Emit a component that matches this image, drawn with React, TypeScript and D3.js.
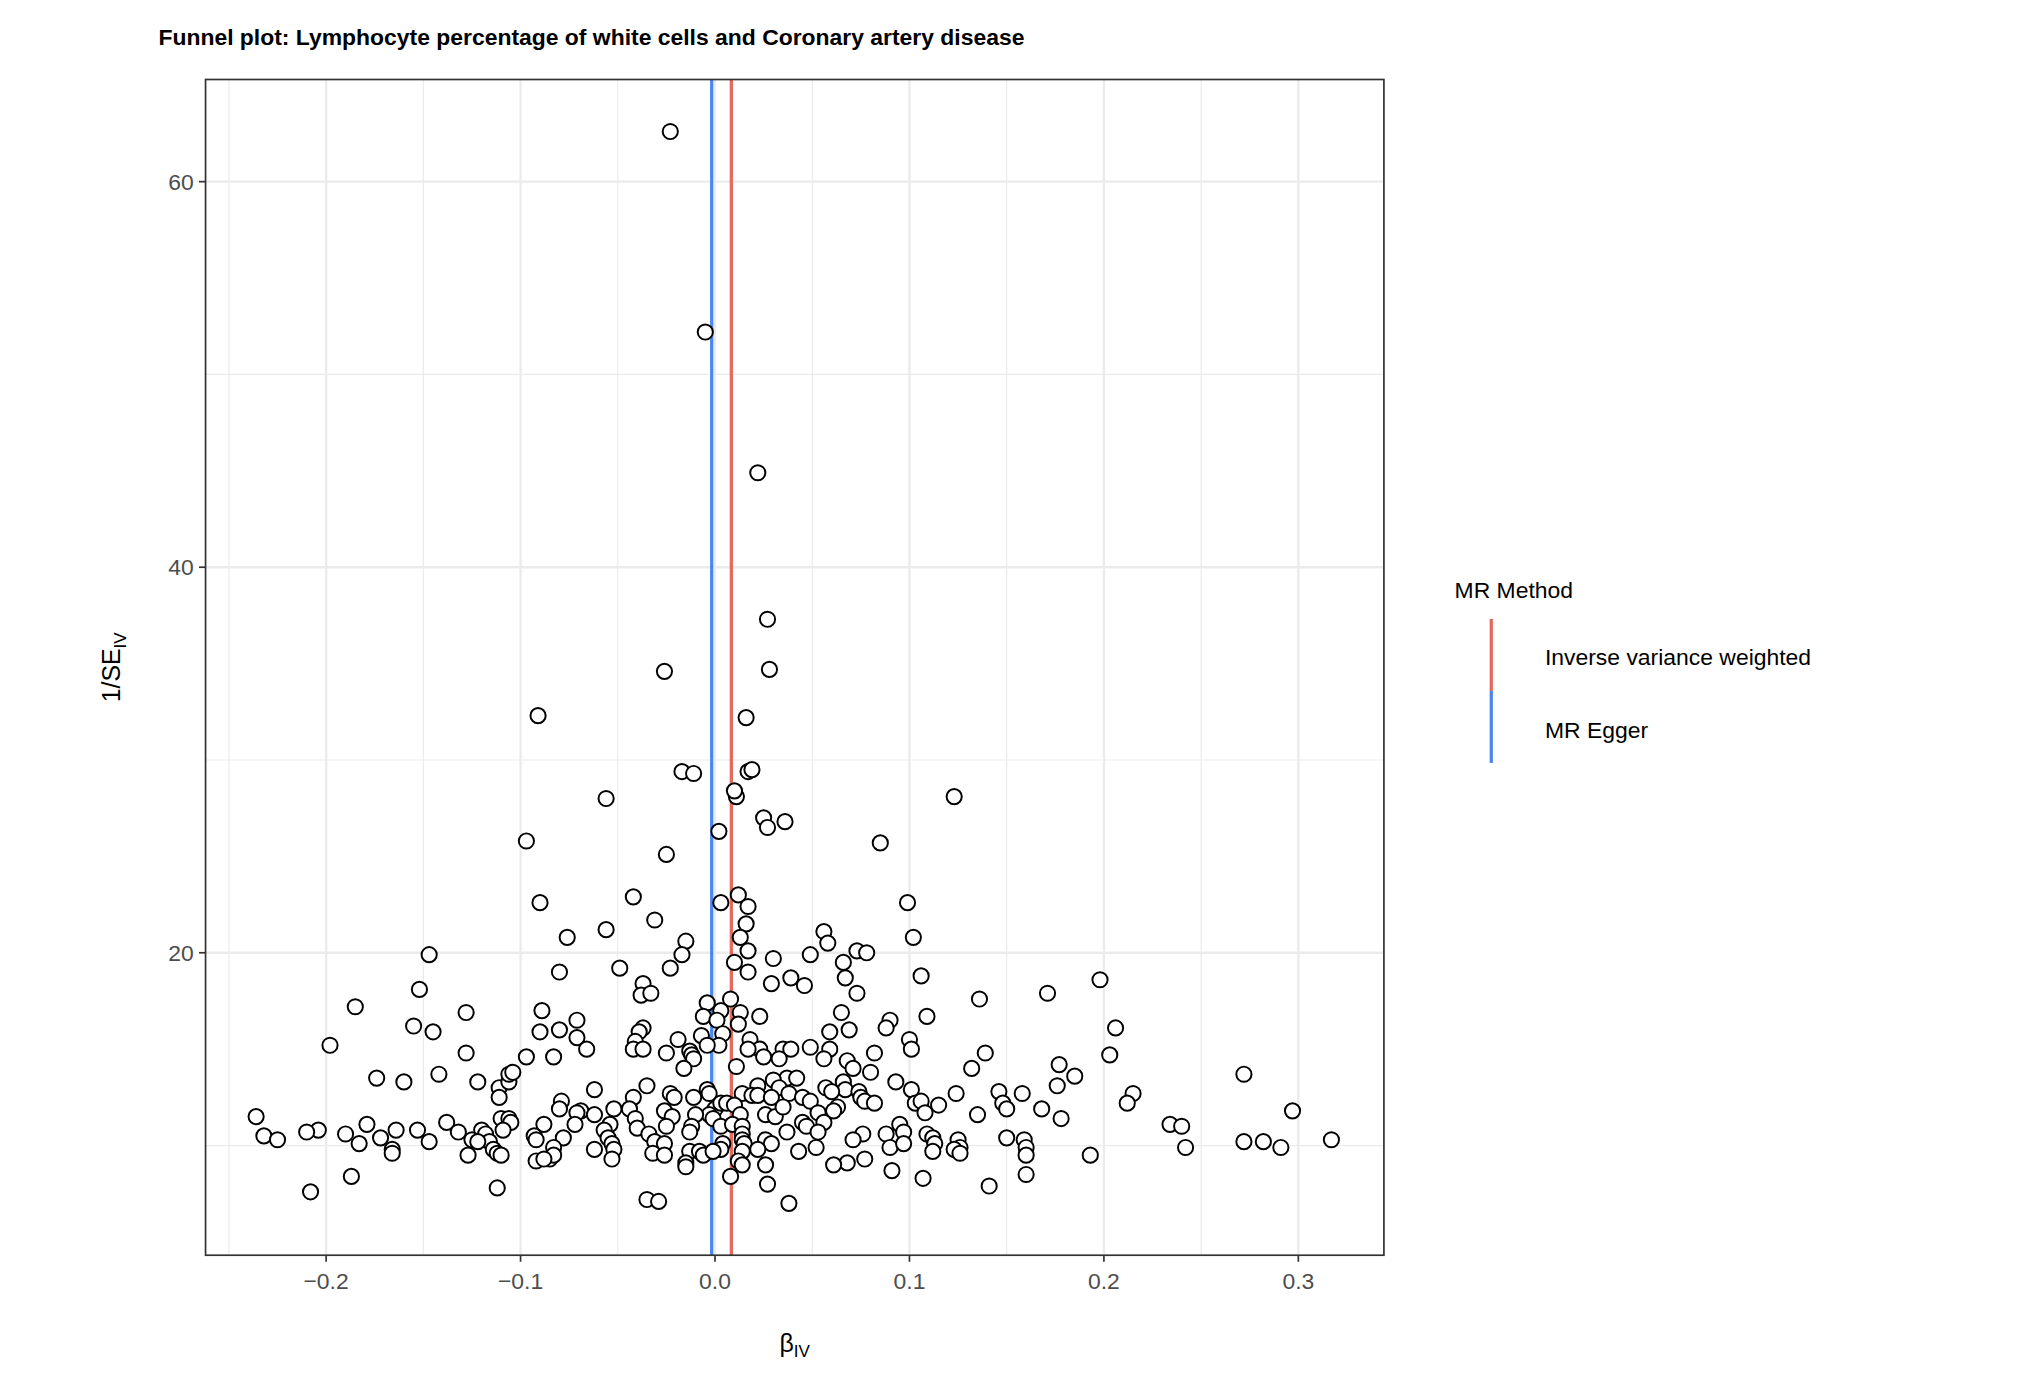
import React from "react";
import * as d3 from "d3";

const xTicks = [-0.2, -0.1, 0.0, 0.1, 0.2, 0.3];
const xMinor = [-0.25, -0.15, -0.05, 0.05, 0.15, 0.25];
const yTicks = [20, 40, 60];
const yMinor = [10, 30, 50];
const ivwSlope = 0.0084;
const eggerSlope = -0.0017;
const methods = ["Inverse variance weighted", "MR Egger"];
const methodColors = ["#E5695C", "#4A87F0"];

const beta = [
-0.023,-0.005,0.022,0.027,-0.026,0.028,-0.091,0.016,-0.017,-0.011,0.017,0.019,-0.056,0.011,0.010,0.123,0.025,0.027,0.036,0.002,-0.097,0.085,-0.025,-0.042,0.012,0.003,-0.090,0.017,0.099,-0.031,0.016,-0.056,0.056,-0.076,0.102,-0.015,0.013,0.058,0.017,0.073,0.078,-0.147,-0.017,0.030,0.049,0.066,-0.049,-0.023,0.010,0.017,-0.080,0.106,0.067,-0.037,0.039,0.029,0.046,0.198,-0.152,-0.038,-0.033,0.073,0.171,0.136,-0.004,0.008,-0.185,-0.089,-0.128,0.013,0.003,0.023,0.065,0.109,0.090,-0.071,-0.006,0.001,0.012,-0.155,-0.145,-0.037,-0.039,-0.080,-0.090,0.059,0.069,0.088,0.206,-0.007,0.004,-0.071,-0.041,-0.019,0.018,0.100,-0.198,0.002,-0.004,0.023,0.035,0.039,-0.066,-0.042,-0.037,-0.025,-0.013,0.017,0.049,0.059,0.082,0.101,0.139,0.203,-0.128,-0.097,-0.083,-0.012,-0.011,0.025,0.033,0.056,0.068,0.011,-0.016,0.071,0.080,0.132,0.177,-0.174,-0.142,-0.160,-0.122,-0.111,-0.106,-0.106,-0.104,0.037,0.030,0.042,0.022,0.033,0.057,0.066,0.093,0.101,0.067,0.074,0.176,0.185,0.272,-0.035,-0.062,-0.004,-0.003,0.124,0.215,0.146,0.158,-0.111,-0.042,-0.023,-0.021,-0.011,0.014,0.019,0.022,0.029,0.038,0.045,0.049,0.060,0.075,0.077,0.082,0.103,0.106,0.115,0.148,0.150,0.212,-0.079,-0.080,-0.069,-0.052,-0.044,-0.026,0.000,0.003,0.006,-0.003,0.010,0.013,0.026,0.031,0.035,0.053,0.063,0.061,0.108,0.135,0.168,0.178,0.297,-0.236,-0.110,-0.071,-0.062,-0.041,-0.022,-0.010,-0.001,0.045,0.056,-0.106,-0.105,-0.138,-0.179,-0.088,-0.072,-0.054,-0.040,-0.025,-0.012,0.003,0.009,0.014,0.047,0.095,0.234,0.240,-0.164,-0.204,-0.210,-0.190,-0.153,-0.132,-0.120,-0.118,-0.109,-0.057,-0.034,-0.013,0.014,0.037,0.053,0.088,0.097,0.109,-0.232,-0.225,-0.172,-0.125,-0.116,-0.093,-0.092,-0.078,-0.055,0.014,0.026,0.076,0.112,0.125,0.150,0.159,0.272,0.282,0.291,0.317,-0.183,-0.147,-0.122,-0.053,-0.031,-0.026,0.004,0.015,0.029,0.071,0.090,0.097,0.113,0.126,0.242,-0.166,-0.166,-0.114,-0.083,-0.062,-0.052,-0.013,-0.008,0.003,0.014,0.022,0.043,0.052,0.123,0.160,-0.112,-0.110,-0.127,-0.032,-0.026,-0.006,-0.001,0.126,0.112,0.160,0.193,0.077,-0.053,-0.092,-0.085,-0.083,-0.088,0.012,0.014,0.068,0.061,-0.015,-0.015,0.091,0.026,-0.187,0.008,0.107,0.141,0.160,0.027,-0.208,-0.112,-0.035,-0.029,0.038
];
const invSE = [
62.6,52.2,44.9,37.3,34.6,34.7,32.3,32.2,29.4,29.3,29.4,29.5,28.0,28.1,28.4,28.1,27.0,26.5,26.8,26.3,25.8,25.7,25.1,22.9,23.0,22.6,22.6,22.4,22.6,21.7,21.5,21.2,21.1,20.8,20.8,20.6,20.8,20.5,20.1,20.1,20.0,19.9,19.9,19.7,19.9,19.5,19.2,19.2,19.5,19.0,19.0,18.8,18.7,18.4,18.7,18.4,18.3,18.6,18.1,17.8,17.9,17.9,17.9,17.6,17.4,17.6,17.2,17.0,16.9,16.9,17.0,16.7,16.9,16.7,16.5,16.5,16.7,16.5,16.3,16.2,15.9,16.1,15.9,16.0,15.9,15.9,16.0,16.1,16.1,15.7,15.8,15.6,15.4,15.5,15.5,15.5,15.2,15.2,15.2,15.0,15.0,15.0,15.0,15.0,15.0,14.8,14.9,15.0,15.1,15.0,14.8,15.0,14.8,14.7,14.8,14.6,14.6,14.7,14.5,14.6,14.5,14.5,14.4,14.1,14.0,14.0,13.8,14.0,14.2,13.5,13.7,13.3,13.3,13.0,13.3,13.7,13.8,13.5,13.4,13.5,13.1,13.0,13.0,13.3,13.3,12.9,12.9,12.8,13.1,13.6,13.7,13.1,12.9,12.9,12.7,12.7,12.7,12.8,12.7,12.5,12.5,12.7,12.5,12.5,12.7,12.6,12.6,12.5,12.7,12.5,12.3,12.8,12.5,12.3,12.2,12.2,12.3,12.1,12.2,11.9,12.2,12.3,11.9,11.8,11.9,11.9,11.8,11.9,12.2,12.2,11.6,12.1,11.6,11.6,11.5,12.0,11.7,12.0,11.8,11.7,11.6,11.9,11.4,11.8,11.5,11.4,11.7,11.6,11.4,11.5,11.6,11.4,11.2,11.2,11.4,11.2,11.2,11.1,11.1,11.1,11.1,10.9,11.0,11.0,11.0,11.1,11.0,11.0,11.1,11.1,11.0,10.8,10.8,10.7,10.6,10.8,10.7,10.8,10.6,10.8,10.8,10.6,10.7,10.6,10.7,10.7,10.6,10.7,10.6,10.5,10.3,10.4,10.3,10.2,10.5,10.3,10.4,10.4,10.3,10.3,10.6,10.4,10.3,10.4,10.3,10.2,10.2,9.9,10.3,10.1,10.2,10.2,10.1,10.2,10.1,10.1,10.1,10.1,10.3,9.9,10.1,10.1,9.9,9.9,9.8,9.6,9.8,9.9,9.8,9.8,9.7,9.7,9.8,9.7,9.8,9.7,9.9,9.8,9.9,9.6,9.5,9.5,9.6,9.5,9.5,9.7,9.6,9.7,9.5,9.5,9.3,9.3,9.2,9.3,9.5,9.3,9.2,9.0,9.1,9.0,9.1,8.9,8.7,9.0,8.4,8.4,8.3,7.9,8.5,8.0,7.6,7.8,7.2,7.1,7.0
];

const W = 1552, H = 1048;
const L = 157, R = 1057, T = 60, B = 958;
const font = "'Liberation Sans', Arial, sans-serif";

export default function App() {
  const x = d3.scaleLinear().domain([-0.262, 0.344]).range([L, R]);
  const y = d3.scaleLinear().domain([4.31, 65.3]).range([B, T]);
  const grid = "#ebebeb";
  const pts = beta.map((b, i) => ({ b, s: invSE[i] }));
  return (
    <svg width={2032} height={1374} viewBox={`0 0 ${W} ${H}`}
      style={{ position: "absolute", left: 0, top: 0, background: "#fff" }} fontFamily={font}>
      <rect x={0} y={0} width={W} height={H} fill="#fff" />
      <text x={121} y={34} fontSize={17.5} fontWeight="bold">Funnel plot: Lymphocyte percentage of white cells and Coronary artery disease</text>
      {xMinor.map(v => <line key={"xm" + v} x1={x(v)} x2={x(v)} y1={T} y2={B} stroke={grid} strokeWidth={0.9} />)}
      {yMinor.map(v => <line key={"ym" + v} y1={y(v)} y2={y(v)} x1={L} x2={R} stroke={grid} strokeWidth={0.9} />)}
      {xTicks.map(v => <line key={"xM" + v} x1={x(v)} x2={x(v)} y1={T} y2={B} stroke={grid} strokeWidth={1.8} />)}
      {yTicks.map(v => <line key={"yM" + v} y1={y(v)} y2={y(v)} x1={L} x2={R} stroke={grid} strokeWidth={1.8} />)}
      <line x1={x(ivwSlope)} x2={x(ivwSlope)} y1={T} y2={B} stroke={methodColors[0]} strokeWidth={2.5} />
      <line x1={x(eggerSlope)} x2={x(eggerSlope)} y1={T} y2={B} stroke={methodColors[1]} strokeWidth={2.5} />
      {pts.map((p, i) => <circle key={i} cx={x(p.b)} cy={y(p.s)} r={5.8} fill="#fff" stroke="#000" strokeWidth={1.5} />)}
      <rect x={L} y={T} width={R - L} height={B - T} fill="none" stroke="#333" strokeWidth={1.3} />
      {xTicks.map(v => (
        <g key={"xt" + v}>
          <line x1={x(v)} x2={x(v)} y1={B} y2={B + 5} stroke="#333" strokeWidth={1.3} />
          <text x={x(v)} y={B + 26} textAnchor="middle" fontSize={17.5} fill="#4d4d4d">{d3.format(".1f")(v)}</text>
        </g>
      ))}
      {yTicks.map(v => (
        <g key={"yt" + v}>
          <line x1={L - 5} x2={L} y1={y(v)} y2={y(v)} stroke="#333" strokeWidth={1.3} />
          <text x={L - 9} y={y(v) + 6} textAnchor="end" fontSize={17.5} fill="#4d4d4d">{v}</text>
        </g>
      ))}
      <text x={607} y={1032} textAnchor="middle" fontSize={19}>β<tspan fontSize={13} dy={4}>IV</tspan></text>
      <text transform={`translate(92,${(T + B) / 2}) rotate(-90)`} textAnchor="middle" fontSize={19}>1/SE<tspan fontSize={13} dy={4}>IV</tspan></text>
      <text x={1111} y={456} fontSize={17.5}>MR Method</text>
      {methods.map((m, i) => (
        <g key={m}>
          <line x1={1139} x2={1139} y1={472 + i * 55} y2={527 + i * 55} stroke={methodColors[i]} strokeWidth={2.5} />
          <text x={1180} y={507 + i * 56} fontSize={17.5}>{m}</text>
        </g>
      ))}
    </svg>
  );
}
